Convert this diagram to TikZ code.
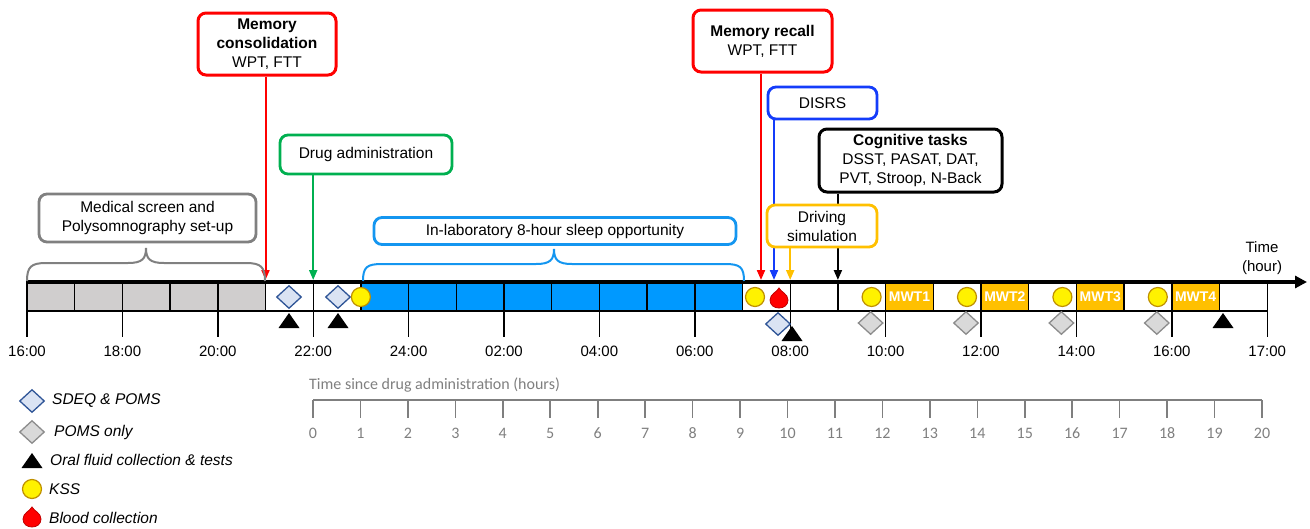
\documentclass[tikz,border=0pt]{standalone}
\usepackage{fontspec}
\setmainfont{Liberation Sans}
\newfontfamily\calib{Carlito}
\usetikzlibrary{arrows.meta,shapes.geometric}
\pgfdeclarelayer{back}
\pgfsetlayers{back,main}
\definecolor{myred}{RGB}{255,0,0}
\definecolor{mygreen}{RGB}{0,176,80}
\definecolor{myblue}{RGB}{20,60,250}
\definecolor{sky}{RGB}{0,153,255}
\definecolor{skyline}{RGB}{20,150,240}
\definecolor{myorange}{RGB}{255,192,0}
\definecolor{mygray}{RGB}{128,128,128}
\definecolor{barfill}{RGB}{208,206,206}
\definecolor{kssborder}{RGB}{191,144,0}
\definecolor{dfill}{RGB}{218,227,243}
\definecolor{dline}{RGB}{47,85,151}
\definecolor{gfill}{RGB}{217,217,217}
\definecolor{gline}{RGB}{140,140,140}
\definecolor{axisgray}{RGB}{127,127,127}
\definecolor{dropline}{RGB}{192,0,0}
\tikzset{
  oral/.pic={\fill[black] (-10.5,7) -- (10.5,7) -- (0,-8) -- cycle;},
  blooddrop/.pic={\filldraw[fill=myred,draw=dropline,line width=0.8pt]
    (0,-11) .. controls (2,-7) and (9,-5) .. (9,1)
    .. controls (9,6) and (5,9) .. (0,9)
    .. controls (-5,9) and (-9,6) .. (-9,1)
    .. controls (-9,-5) and (-2,-7) .. (0,-11) -- cycle;}
}
\begin{document}
\begin{tikzpicture}[x=1pt,y=-1pt,
  box/.style={draw, rounded corners=8pt, line width=2.8pt, fill=white, align=center, inner sep=2pt, font=\fontsize{15.5}{19}\selectfont},
  ptr/.style={line width=2pt, -{Triangle[length=10pt,width=8pt]}},
  kss/.style={circle, fill=yellow, draw=kssborder, line width=1.2pt, minimum size=19pt, inner sep=0pt},
  sdeq/.style={diamond, fill=dfill, draw=dline, line width=1.3pt, minimum width=25pt, minimum height=23pt, inner sep=0pt},
  poms/.style={diamond, fill=gfill, draw=gline, line width=1.3pt, minimum width=25pt, minimum height=23pt, inner sep=0pt},
  hlab/.style={font=\fontsize{15}{18}\selectfont},
  leg/.style={anchor=west, inner sep=0pt, font=\fontsize{15.5}{18}\selectfont\itshape},
  mwt/.style={text=white, inner sep=0pt, font=\fontsize{14}{16}\selectfont\bfseries},
  bracepath/.style={line width=2pt},
  dlab/.style={text=axisgray, font=\fontsize{16}{19}\selectfont\calib},
]
\useasboundingbox (0,0) rectangle (1310,528);

% ---- bar fills
\fill[barfill] (27,282) rectangle ({27+47.7*5},311);
\fill[sky] ({27+47.7*7},282) rectangle ({27+47.7*15},311);
\foreach \t in {18,20,22,24}
  \fill[myorange] ({27+47.7*\t},282) rectangle ({27+47.7*(\t+1)},311);
% ---- dividers and ticks
\foreach \t in {0,...,26}
  \draw[line width=1.4pt] ({27+47.7*\t},282) -- ({27+47.7*\t},311);
\foreach \t in {0,2,...,26}
  \draw[line width=1.4pt] ({27+47.7*\t},311) -- ({27+47.7*\t},337);
\draw[line width=1.4pt] (27,311) -- ({27+47.7*26},311);
% ---- main time arrow
\draw[line width=3.5pt, -{Triangle[length=12pt,width=12pt]}] (26,282) -- (1307,282);
\node[font=\fontsize{15}{19}\selectfont, align=center] (timelab) at (1262,258) {Time\\(hour)};

% ---- MWT labels
\foreach \i/\t in {1/18,2/20,3/22,4/24}
  \node[mwt] (mwt\i) at ({27+47.7*(\t+0.5)},297) {MWT\i};

% ---- hour labels
\foreach \t/\l in {0/16:00,2/18:00,4/20:00,6/22:00,8/24:00,10/02:00,12/04:00,14/06:00,16/08:00,18/10:00,20/12:00,22/14:00,24/16:00,26/17:00}
  \node[hlab] (h\t) at ({27+47.7*\t},351) {\l};

% ---- braces
\draw[mygray, bracepath] (27,281) .. controls (27,267) and (31,263) .. (46,263) -- (128,263)
  .. controls (142,263) and (146,259) .. (146,248)
  .. controls (146,259) and (150,263) .. (164,263) -- (246,263)
  .. controls (261,263) and (265,267) .. (265,281);
\draw[skyline, bracepath] (363,281) .. controls (363,267) and (367,264) .. (382,264) -- (536,264)
  .. controls (550,264) and (554,260) .. (554,249)
  .. controls (554,260) and (558,264) .. (572,264) -- (725,264)
  .. controls (740,264) and (744,267) .. (744,281);

% ---- boxes
\node[box, draw=mygray, minimum width=217pt, minimum height=48pt] (med) at (147.5,218) {Medical screen and\\Polysomnography set-up};
\node[box, draw=skyline, minimum width=362pt, minimum height=27pt] (sleep) at (555,231) {In-laboratory 8-hour sleep opportunity};
\node[box, draw=myred, line width=3pt, minimum width=138pt, minimum height=62pt] (mc) at (267,44) {\textbf{Memory}\\\textbf{consolidation}\\WPT, FTT};
\node[box, draw=mygreen, minimum width=172pt, minimum height=39pt] (drug) at (366,154.5) {Drug administration};
\node[box, draw=myred, line width=3pt, minimum width=139pt, minimum height=62pt] (mr) at (762.5,41) {\textbf{Memory recall}\\WPT, FTT};
\node[box, draw=myblue, minimum width=109pt, minimum height=32pt] (disrs) at (822.5,103) {DISRS};
\node[box, draw=black, line width=3pt, minimum width=183pt, minimum height=63pt] (cog) at (910.5,160.5) {\textbf{Cognitive tasks}\\DSST, PASAT, DAT,\\PVT, Stroop, N-Back};
\node[box, draw=myorange, minimum width=110pt, minimum height=42pt] (drive) at (822,226) {Driving\\simulation};

% ---- arrow targets on the bar
\coordinate (amc) at ({27+47.7*5},280);
\coordinate (adrug) at ({27+47.7*6},280);
\coordinate (amr) at (761,280);
\coordinate (adisrs) at (774,280);
\coordinate (adrive) at ({27+47.7*16},280);
\coordinate (acog) at ({27+47.7*17},280);
\begin{pgfonlayer}{back}
\draw[ptr, myred] (mc.south -| amc) -- (amc);
\draw[ptr, mygreen] (drug.south -| adrug) -- (adrug);
\draw[ptr, myred] (mr.south -| amr) -- (amr);
\draw[ptr, myblue] (disrs.south -| adisrs) -- (adisrs);
\draw[ptr, black] (cog.south -| acog) -- (acog);
\draw[ptr, myorange] (drive.south -| adrive) -- (adrive);
\end{pgfonlayer}

% ---- markers on the timeline
\node[sdeq] (sd1) at (289,297) {};
\node[sdeq] (sd2) at (338,297) {};
\node[sdeq] (sd3) at (778,324) {};
\node[kss] (k1) at ({27+47.7*7},297) {};
\node[kss] (k2) at (755,297) {};
\foreach \i/\t in {3/18,4/20,5/22,6/24}
  \node[kss] (k\i) at ({27+47.7*\t-14},297) {};
\foreach \i/\t in {1/18,2/20,3/22,4/24}
  \node[poms] (pm\i) at ({27+47.7*\t-15},323) {};
\pic (o1) at (289,321) {oral};
\pic (o2) at (338,321) {oral};
\pic (o3) at (792,334) {oral};
\pic (o4) at (1223,321) {oral};
\pic (bd) at (779,299) {blooddrop};

% ---- legend
\node[sdeq] (lg1) at (32,401) {};
\node[leg] (lt1) at (52,401) {SDEQ \& POMS};
\node[poms] (lg2) at (32,432) {};
\node[leg] (lt2) at (54,432) {POMS only};
\pic (lg3) at (32,461) {oral};
\node[leg] (lt3) at (50,460) {Oral fluid collection \& tests};
\node[kss] (lg4) at (32,489) {};
\node[leg] (lt4) at (49,489) {KSS};
\pic (lg5) at (32,518) {blooddrop};
\node[leg] (lt5) at (49,518) {Blood collection};

% ---- time since drug administration axis
\node[dlab, anchor=west, inner sep=0pt] (dtitle) at (309,385) {Time since drug administration (hours)};
\draw[axisgray, line width=1.6pt] (313,400) -- (1262,400);
\foreach \i in {0,...,20} {
  \draw[axisgray, line width=1.6pt] ({313+47.45*\i},400) -- ({313+47.45*\i},418);
  \node[dlab] (d\i) at ({313+47.45*\i},433) {\i};
}
\end{tikzpicture}
\end{document}
